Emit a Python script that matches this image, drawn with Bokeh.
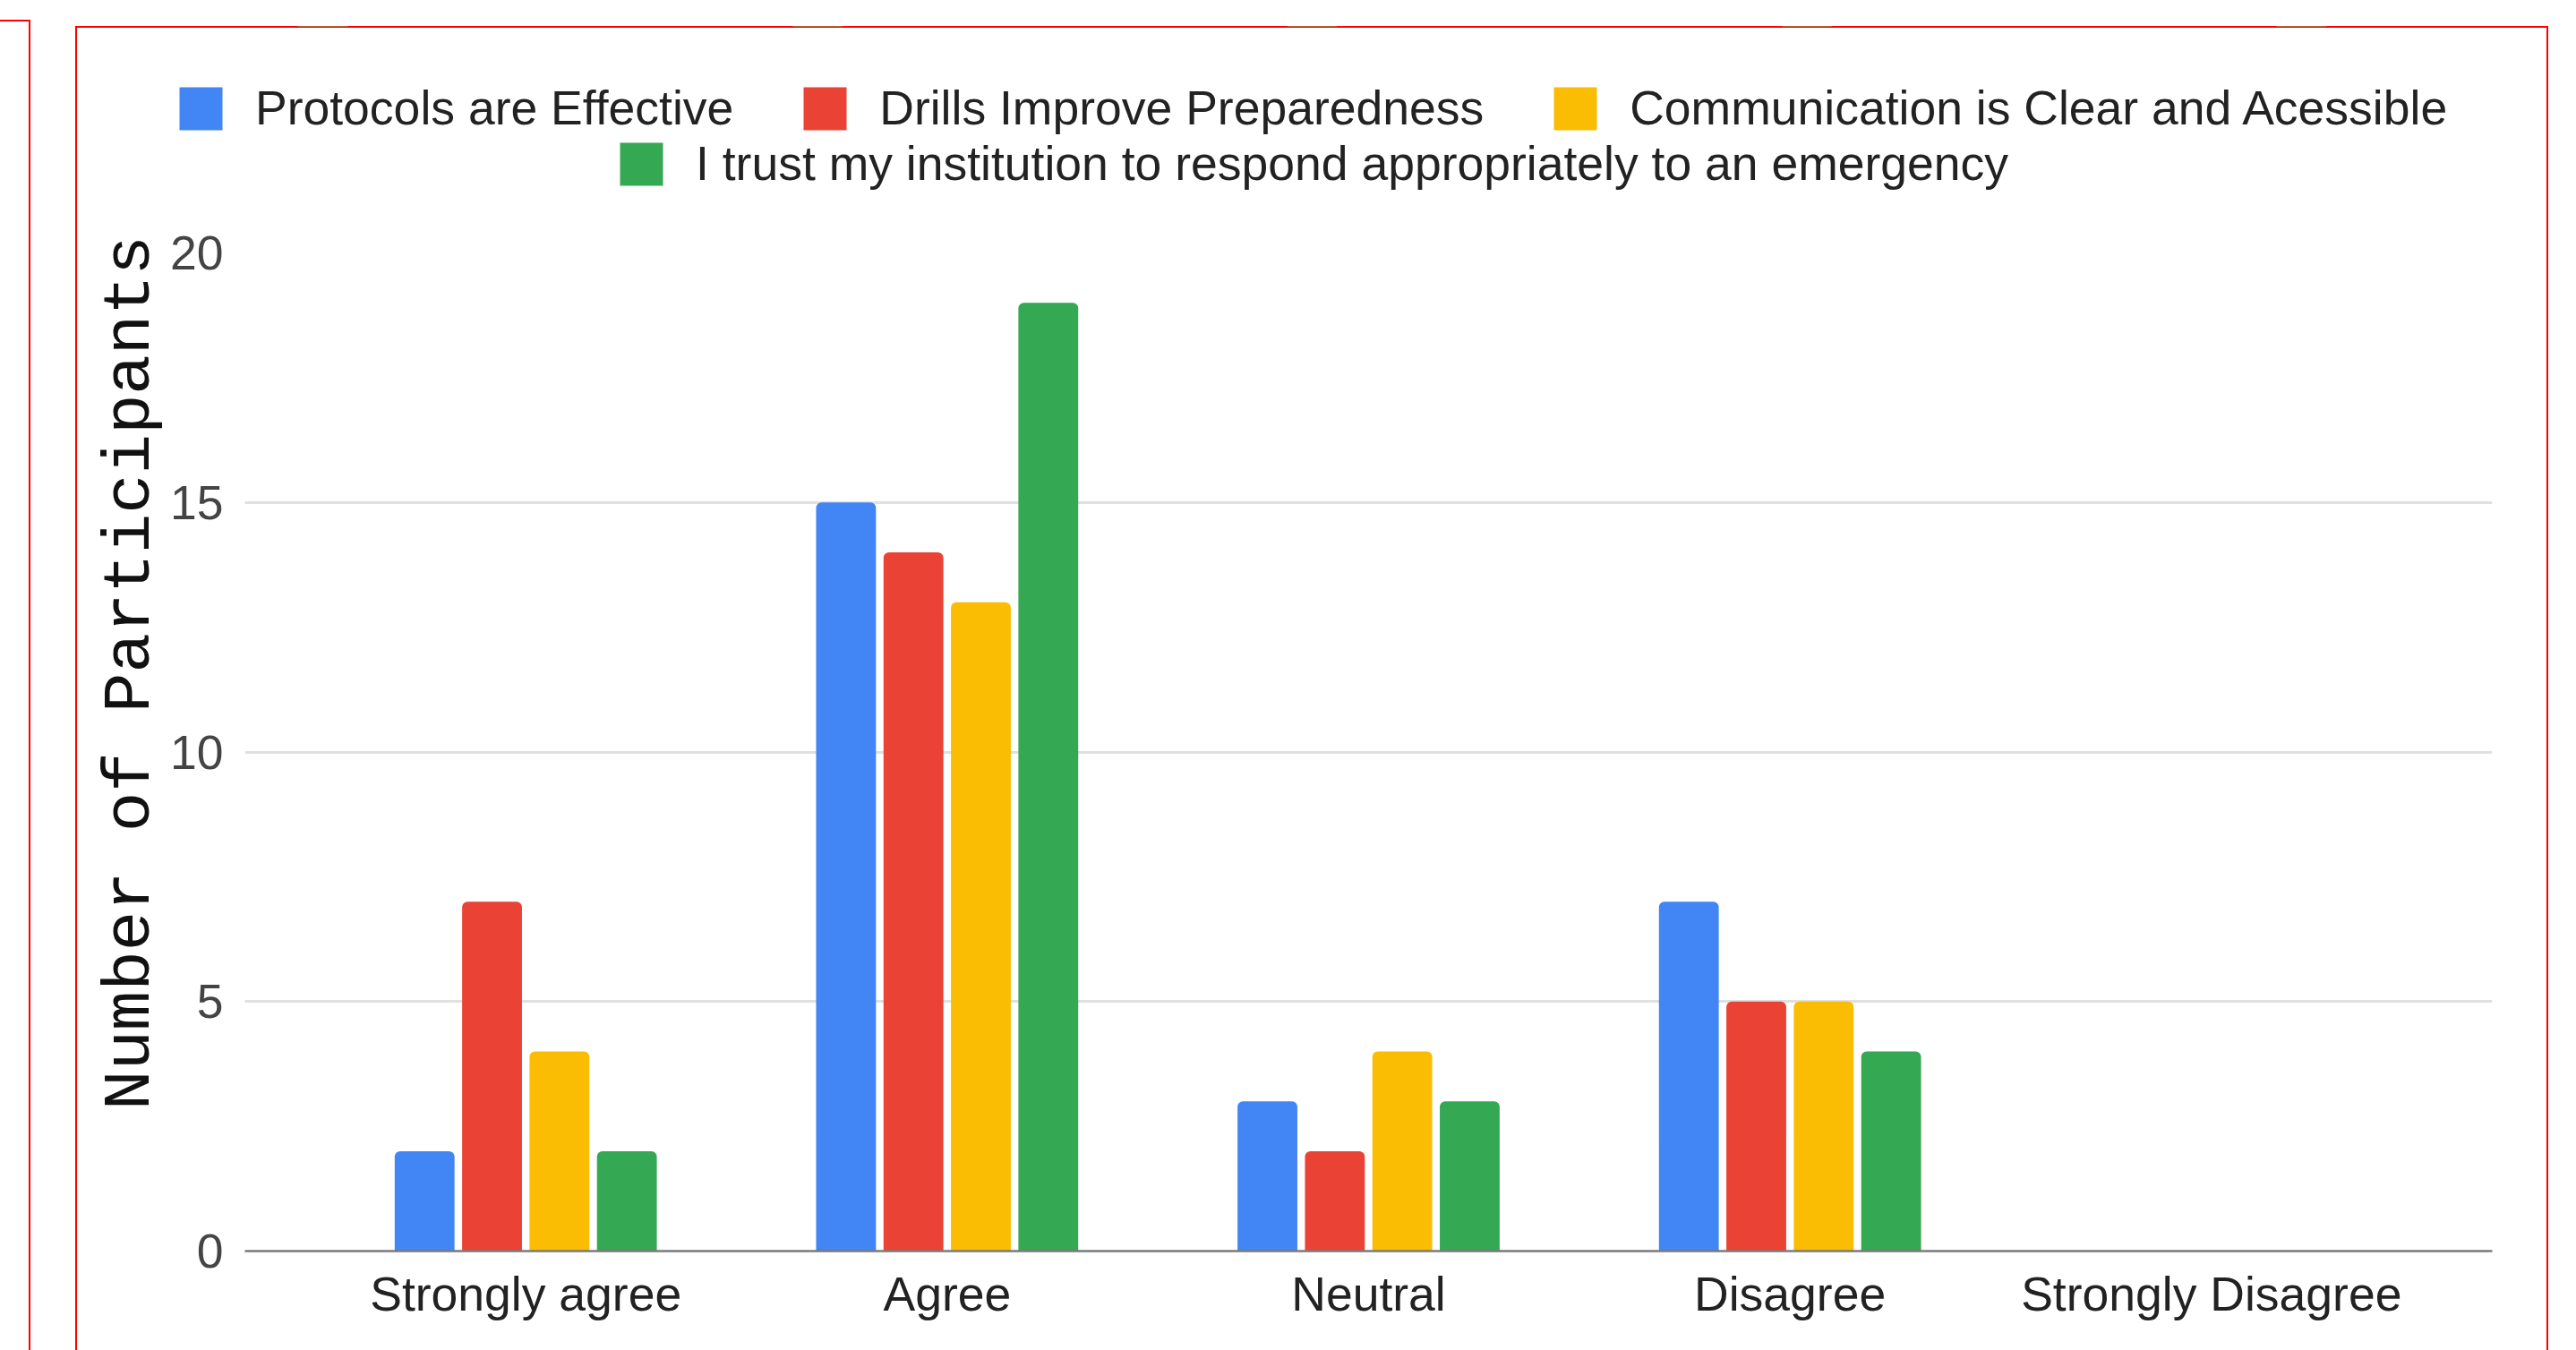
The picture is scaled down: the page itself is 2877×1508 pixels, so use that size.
import math
from bokeh.plotting import figure
from bokeh.models import (ColumnDataSource, FactorRange, Range1d, FixedTicker,
                          Legend, LegendItem, Label, Div)
from bokeh.layouts import row, column
from bokeh.transform import dodge
from bokeh.embed import file_html
from bokeh.resources import INLINE

# ---- data ----
categories = ["Strongly agree", "Agree", "Neutral", "Disagree", "Strongly Disagree"]
series_names = [
    "Protocols are Effective",
    "Drills Improve Preparedness",
    "Communication is Clear and Acessible",
    "I trust my institution to respond appropriately to an emergency",
]
protocols = [2, 15, 3, 7, 0]
drills = [7, 14, 2, 5, 0]
communication = [4, 13, 4, 5, 0]
trust = [2, 19, 3, 4, 0]
y_ticks = [0, 5, 10, 15, 20]
y_title = "Number of Participants"

colors = ["#4285F4", "#EA4335", "#FBBC04", "#34A853"]
offsets = [-0.24, -0.08, 0.08, 0.24]
cols = ["s0", "s1", "s2", "s3"]

source = ColumnDataSource(dict(cat=categories, s0=protocols, s1=drills,
                               s2=communication, s3=trust))

FONT = "Liberation Sans"
FS = "53.5px"
RED = "#ff0000"

# ---------------- main chart ----------------
p = figure(width=2660, height=1258,
           x_range=FactorRange(factors=categories, range_padding=0.1665,
                               range_padding_units="absolute"),
           y_range=Range1d(0, 20),
           output_backend="svg", toolbar_location=None,
           min_border_left=84, min_border_right=63,
           min_border_top=32, min_border_bottom=111)
p.frame_align = False
p.background_fill_color = "white"
p.border_fill_color = None
p.outline_line_color = None
p.styles = {"box-shadow": f"inset -2px 0 0 0 {RED}"}

renderers = []
for col, color, off in zip(cols, colors, offsets):
    r = p.vbar(x=dodge("cat", off, range=p.x_range), top=col, bottom=0,
               width=0.142, source=source, fill_color=color, line_color=None,
               border_radius=(6, 6, 0, 0))
    renderers.append(r)

p.xaxis.axis_line_color = "#7a7a7a"
p.xaxis.axis_line_width = 2.5
p.xaxis.major_tick_line_color = None
p.xaxis.minor_tick_line_color = None
p.xaxis.major_tick_out = 0
p.xaxis.minor_tick_out = 0
p.xaxis.major_label_text_font = FONT
p.xaxis.major_label_text_font_size = FS
p.xaxis.major_label_text_color = "#222222"
p.xaxis.major_label_standoff = 18

p.yaxis.ticker = FixedTicker(ticks=y_ticks)
p.yaxis.axis_line_color = None
p.yaxis.major_tick_line_color = None
p.yaxis.minor_tick_line_color = None
p.yaxis.major_tick_out = 0
p.yaxis.minor_tick_out = 0
p.yaxis.major_label_text_font = FONT
p.yaxis.major_label_text_font_size = FS
p.yaxis.major_label_text_color = "#444444"
p.yaxis.major_label_standoff = 24

p.xgrid.grid_line_color = None
p.ygrid.ticker = FixedTicker(ticks=y_ticks)
p.ygrid.grid_line_color = "#e0e0e0"
p.ygrid.grid_line_width = 3

# ---------------- y title strip ----------------
pt = figure(width=102, height=1258, x_range=Range1d(0, 1), y_range=Range1d(0, 1),
            output_backend="svg", toolbar_location=None, min_border=0,
            x_axis_location=None, y_axis_location=None)
pt.frame_align = False
pt.grid.visible = False
pt.outline_line_color = None
pt.background_fill_color = None
pt.border_fill_color = None
pt.styles = {"box-shadow": f"inset 2px 0 0 0 {RED}"}
pt.add_layout(Label(x=61, y=757, x_units="screen", y_units="screen",
                    text=y_title, angle=math.pi / 2, text_align="center",
                    text_baseline="alphabetic", text_font="Liberation Mono",
                    text_font_size="74px", text_color="#111111"))

# ---------------- legend strip ----------------
pl = figure(width=2762, height=221, x_range=FactorRange(factors=categories),
            y_range=Range1d(-2, -1), output_backend="svg", toolbar_location=None,
            min_border=0, x_axis_location=None, y_axis_location=None)
pl.frame_align = False
pl.grid.visible = False
pl.outline_line_color = None
pl.background_fill_color = None
pl.border_fill_color = None
pl.styles = {"box-shadow": f"inset 2px 2px 0 0 {RED}, inset -2px 0 0 0 {RED}"}
legend_r = []
for col, color in zip(cols, colors):
    legend_r.append(pl.vbar(x="cat", top=col, bottom=0, width=0.1, source=source,
                            fill_color=color, line_color=None))

def make_legend(idx, loc):
    return Legend(items=[LegendItem(label=series_names[i], renderers=[legend_r[i]]) for i in idx],
                  orientation="horizontal", location=loc,
                  label_text_font=FONT, label_text_font_size=FS,
                  label_text_color="#222222", glyph_width=60, glyph_height=60,
                  label_height=60, label_standoff=31, spacing=72, padding=0,
                  margin=0, border_line_color=None, background_fill_alpha=0)

pl.add_layout(make_legend([0, 1, 2], (110, 99)))
pl.add_layout(make_legend([3], (602, 37)))

# ---------------- page layout ----------------
frag = Div(text="", width=34, height=1486, margin=(22, 0, 0, 0),
           styles={"border-top": f"2px solid {RED}",
                   "border-right": f"2px solid {RED}",
                   "box-sizing": "border-box"})

chart = column(pl, row(pt, p), margin=(29, 0, 0, 50))
layout = row(frag, chart)
open("out.html", "w").write(file_html(layout, INLINE))
